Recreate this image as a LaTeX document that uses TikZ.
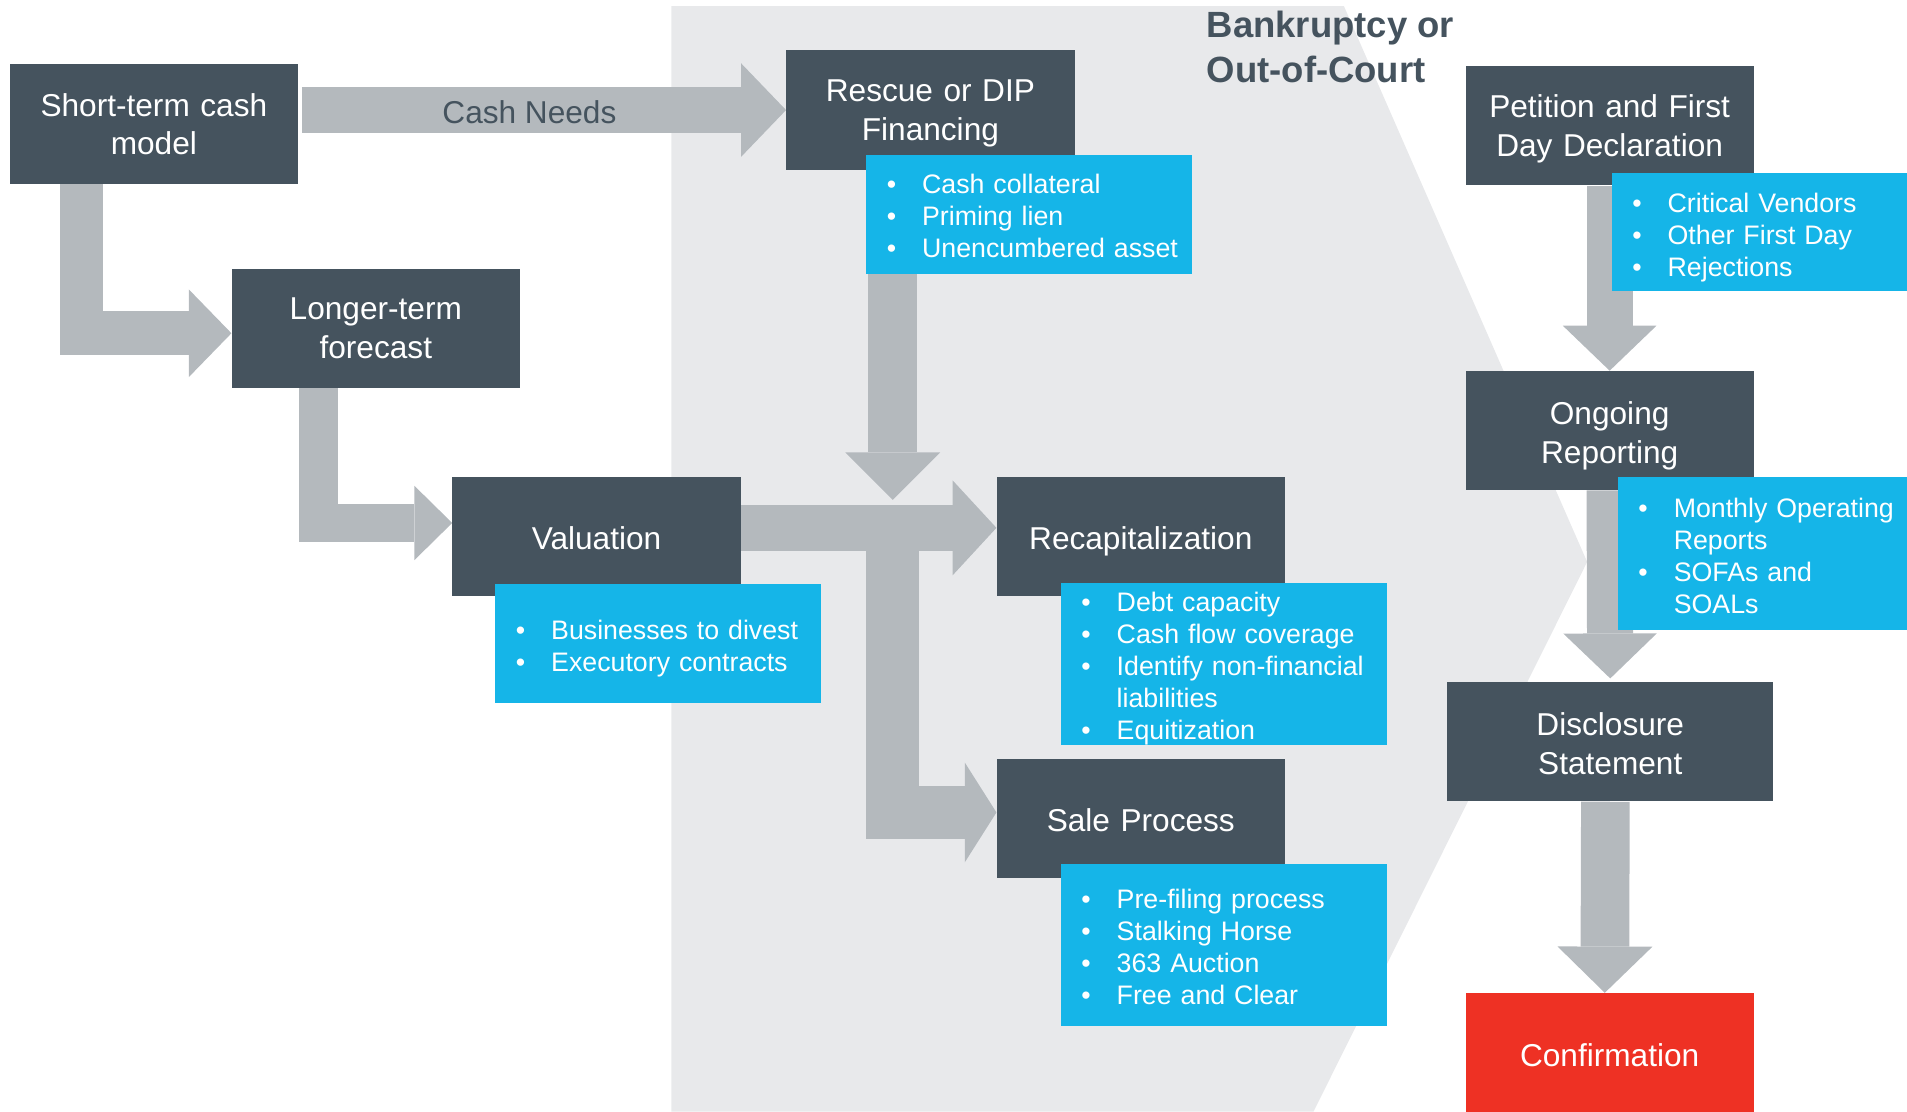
\documentclass[tikz,border=0pt]{standalone}
\usepackage{fontspec}
\setmainfont{Liberation Sans}
\usetikzlibrary{arrows.meta}
\definecolor{slate}{HTML}{45535E}
\definecolor{sky}{HTML}{15B5E8}
\definecolor{shaft}{HTML}{B4B9BD}
\definecolor{court}{HTML}{E8E9EB}
\definecolor{alert}{HTML}{EE3124}
\pgfdeclarelayer{back}
\pgfdeclarelayer{flow}
\pgfsetlayers{back,flow,main}
\newcommand{\blt}[1]{\mbox{\makebox[29pt][l]{\textbullet}#1}}
\newcommand{\cnt}[1]{\mbox{\hspace*{29pt}#1}}
\begin{document}
\begin{tikzpicture}[x=1pt, y=-1pt,
	stage/.style={fill=slate, text=white, text width=237pt, minimum height=98pt, inner sep=0pt, align=center, text height=22pt, text depth=0pt, font=\fontsize{26}{32}\selectfont},
	pair/.style={text height=0pt, text depth=14pt},
	notes/.style n args={3}{fill=sky, text=white, anchor=north west, text width=#1, minimum height=#2, text height=0pt, text depth=#3, inner xsep=17pt, inner ysep=0pt, align=left, font=\fontsize{22}{26.4}\selectfont},
	fat/.style n args={3}{draw=shaft, line width=#1, -{Triangle[width=#2, length=#3, line width=0pt]}}]
	\useasboundingbox (0,0) rectangle (1568,914);
	\begin{pgfonlayer}{back}
		\fill[court] (552,5) -- (1105,5) -- (1305,462) -- (1080,914) -- (552,914) -- cycle;
	\end{pgfonlayer}
	\node[anchor=west, align=left, inner sep=0pt, text=slate, font=\bfseries\fontsize{30}{37}\selectfont] (title) at (992,39) {Bankruptcy or\\Out-of-Court};
	% stages
	\node[stage, pair, text depth=12pt, font=\fontsize{26}{31}\selectfont] (short) at (126.5,102) {Short-term cash\\model};
	\node[stage, pair] (rescue) at (765,90.5) {Rescue or DIP\\Financing};
	\node[stage, pair] (longer) at (309,270) {Longer-term\\forecast};
	\node[stage] (valuation) at (490.5,441) {Valuation};
	\node[stage] (recap) at (938,441) {Recapitalization};
	\node[stage] (sale) at (938,673) {Sale Process};
	\node[stage, pair] (petition) at (1323.5,103.5) {Petition and First\\Day Declaration};
	\node[stage, pair, text depth=10pt] (ongoing) at (1323.5,354) {Ongoing\\Reporting};
	\node[stage, pair, text depth=10pt, text width=268pt] (disclosure) at (1324,610) {Disclosure\\Statement};
	\node[stage, fill=alert] (confirm) at (1323.5,865.5) {Confirmation};
	% bullet lists
	\node[notes={234pt}{98pt}{33.8pt}] (rescueList) at (712,127) {\blt{Cash collateral}\\\blt{Priming lien}\\\blt{Unencumbered asset}};
	\node[notes={234pt}{98pt}{7.4pt}] (valList) at (407,480) {\blt{Businesses to divest}\\\blt{Executory contracts}};
	\node[notes={234pt}{133pt}{86.6pt}] (recapList) at (872,479) {\blt{Debt capacity}\\\blt{Cash flow coverage}\\\blt{Identify non-financial}\\\cnt{liabilities}\\\blt{Equitization}};
	\node[notes={234pt}{133pt}{60.2pt}] (saleList) at (872,710) {\blt{Pre-filing process}\\\blt{Stalking Horse}\\\blt{363 Auction}\\\blt{Free and Clear}};
	\node[notes={209pt}{97pt}{32pt}] (petList) at (1325,142) {\blt{Critical Vendors}\\\blt{Other First Day}\\\blt{Rejections}};
	\node[notes={204pt}{126pt}{60.2pt}] (ongList) at (1330,392) {\blt{Monthly Operating}\\\cnt{Reports}\\\blt{SOFAs and}\\\cnt{SOALs}};
	% arrows
	\begin{pgfonlayer}{flow}
		\coordinate (split) at (734,434);
		\draw[fat={38pt}{77pt}{37pt}] ([xshift=3pt]short.east |- rescue.west) -- (rescue.west)
			node[pos=0.47, yshift=-2pt, text=slate, font=\fontsize{26}{31.5}\selectfont] (needs) {Cash Needs};
		\draw[fat={36pt}{72pt}{35pt}] ([xshift=-59.5pt]short.south) |- ([yshift=-4pt]longer.west);
		\draw[fat={32pt}{61pt}{31pt}] ([xshift=-47pt]longer.south) |- ([yshift=11pt]valuation.west);
		\draw[fat={38pt}{78pt}{36pt}] ([yshift=7pt]valuation.east) -- ([yshift=7pt]recap.west);
		\draw[fat={40pt}{78pt}{39pt}] (split |- rescueList.south) -- ([yshift=23pt]split);
		\draw[fat={44pt}{82pt}{26pt}] (split) |- ([yshift=5pt]sale.west);
		\draw[fat={38pt}{77pt}{37pt}] (petition.south) -- (ongoing.north);
		\draw[fat={38pt}{77pt}{37pt}] (ongoing.south) -- ([yshift=3pt]disclosure.north);
		\draw[fat={40pt}{78pt}{38pt}] ([xshift=-4pt]disclosure.south) -- ([xshift=-4pt]confirm.north);
	\end{pgfonlayer}
\end{tikzpicture}
\end{document}
